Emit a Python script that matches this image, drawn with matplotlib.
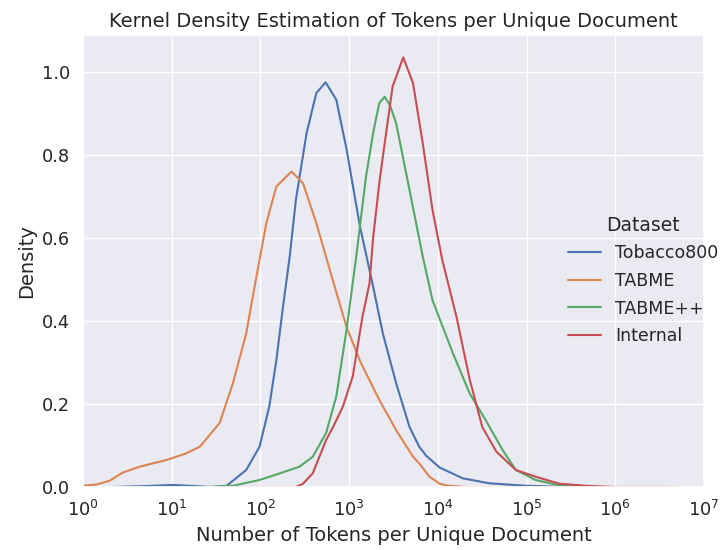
import numpy as np
import matplotlib
matplotlib.use("Agg")
import matplotlib.pyplot as plt
import seaborn as sns

# densities, x given as log10(tokens)
datasets = ["Tobacco800", "TABME", "TABME++", "Internal"]

tobacco_x = [0.34, 0.8, 1.0, 1.2, 1.45, 1.62, 1.84, 1.99, 2.10, 2.18, 2.25, 2.33, 2.40, 2.52, 2.63, 2.735,
             2.855, 2.97, 3.12, 3.27, 3.38, 3.53, 3.68, 3.79, 3.87, 4.02, 4.28, 4.58, 5.0, 5.5, 6.6]
tobacco_y = [0.0, 0.003, 0.005, 0.003, 0.0, 0.003, 0.041, 0.097, 0.194, 0.306, 0.427, 0.555, 0.692, 0.852, 0.949, 0.975,
             0.933, 0.815, 0.630, 0.483, 0.37, 0.25, 0.145, 0.097, 0.075, 0.047, 0.021, 0.009, 0.003, 0.0, 0.0]

tabme_x = [-0.2, 0.0, 0.15, 0.30, 0.45, 0.64, 0.94, 1.15, 1.317, 1.54, 1.69, 1.84, 1.955, 2.067, 2.18, 2.35,
           2.48, 2.63, 2.80, 2.97, 3.13, 3.34, 3.53, 3.72, 3.79, 3.905, 4.02, 4.09, 4.3, 6.7]
tabme_y = [0.0, 0.003, 0.006, 0.015, 0.035, 0.049, 0.065, 0.08, 0.097, 0.154, 0.25, 0.37, 0.507, 0.636, 0.724, 0.76,
           0.732, 0.636, 0.51, 0.386, 0.30, 0.21, 0.137, 0.073, 0.057, 0.025, 0.008, 0.004, 0.0, 0.0]

tabmepp_x = [0.34, 1.4, 1.69, 1.99, 2.22, 2.44, 2.59, 2.74, 2.855, 2.97, 3.08, 3.19, 3.27, 3.34, 3.40,
             3.46, 3.53, 3.68, 3.83, 3.94, 4.17, 4.36, 4.54, 4.73, 4.88, 5.1, 5.37, 5.7, 6.6]
tabmepp_y = [0.0, 0.0, 0.003, 0.017, 0.033, 0.049, 0.073, 0.13, 0.218, 0.378, 0.555, 0.748, 0.852, 0.925, 0.94,
             0.92, 0.876, 0.716, 0.555, 0.45, 0.322, 0.225, 0.161, 0.089, 0.041, 0.017, 0.004, 0.0, 0.0]

internal_x = [1.5, 2.40, 2.48, 2.59, 2.74, 2.82, 2.93, 3.04, 3.15, 3.23, 3.27, 3.34, 3.38, 3.49, 3.61,
              3.72, 3.83, 3.94, 4.05, 4.21, 4.36, 4.43, 4.50, 4.66, 4.88, 5.1, 5.37, 5.67, 6.0, 6.7]
internal_y = [0.0, 0.0, 0.008, 0.033, 0.113, 0.145, 0.194, 0.266, 0.41, 0.491, 0.60, 0.732, 0.796, 0.965, 1.035,
              0.973, 0.828, 0.667, 0.547, 0.41, 0.258, 0.202, 0.145, 0.085, 0.041, 0.025, 0.008, 0.003, 0.0, 0.0]

sns.set_theme()
colores = sns.color_palette()

fig = plt.figure(figsize=(7.24, 5.5), dpi=100)
ax = fig.add_axes([0.1146, 0.1145, 0.8578, 0.8219])

curvas = [(tobacco_x, tobacco_y), (tabme_x, tabme_y), (tabmepp_x, tabmepp_y), (internal_x, internal_y)]
for i in range(len(curvas)):
  lx, dy = curvas[i]
  ax.plot(10 ** np.array(lx), dy, color=colores[i], linewidth=1.5, label=datasets[i])

ax.set_xscale("log")
ax.set_xlim(1, 1e7)
ax.set_ylim(0, 1.089)
ax.tick_params(labelsize=12.8)
ax.set_xlabel("Number of Tokens per Unique Document", fontsize=14)
ax.set_ylabel("Density", fontsize=14)
ax.set_title("Kernel Density Estimation of Tokens per Unique Document", fontsize=14)

fig.legend(title="Dataset", loc="center left", bbox_to_anchor=(0.763, 0.49), frameon=False,
           fontsize=12.5, title_fontsize=13.5, labelspacing=0.55, handlelength=1.9)

plt.savefig("out.png")
plt.close()
